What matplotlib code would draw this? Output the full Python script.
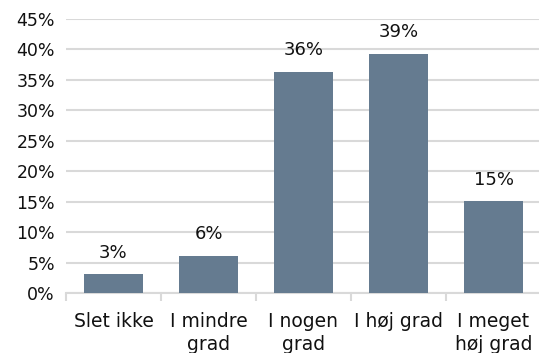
import matplotlib.pyplot as plt
from matplotlib.ticker import MultipleLocator, FuncFormatter

categories = ['Slet ikke', 'I mindre\ngrad', 'I nogen\ngrad', 'I høj grad', 'I meget\nhøj grad']
values = [3.1, 6.1, 36.3, 39.3, 15.1]
labels = ['3%', '6%', '36%', '39%', '15%']

plt.rcParams['font.family'] = ['DejaVu Sans']

fig = plt.figure(figsize=(5.39, 3.53), dpi=100)
W, H = 539, 353
ax = fig.add_axes([66 / W, 60 / H, 475 / W, 274 / H])

x = range(len(categories))
bars = ax.bar(x, values, width=0.63, color='#657b90', zorder=3)
for b, lab in zip(bars, labels):
    ax.annotate(lab, (b.get_x() + b.get_width() / 2, b.get_height()),
                xytext=(0, 9), textcoords='offset points',
                ha='center', va='bottom', fontsize=13, color='#111111')

ax.set_xlim(-0.5, len(categories) - 0.5)
ax.set_ylim(0, 45)
ax.yaxis.set_major_locator(MultipleLocator(5))
ax.yaxis.set_major_formatter(FuncFormatter(lambda v, p: f'{v:.0f}%'))
ax.grid(axis='y', color='#d9d9d9', linewidth=1.5, zorder=0)

for s in ['top', 'right', 'left']:
    ax.spines[s].set_visible(False)
ax.spines['bottom'].set_color('#d9d9d9')
ax.spines['bottom'].set_linewidth(1.5)

ax.set_xticks(list(x))
ax.set_xticklabels(categories, fontsize=13.5, linespacing=1.25, color='#111111')
ax.tick_params(axis='x', length=0, pad=14)
ax.set_xticks([i - 0.5 for i in range(len(categories) + 1)], minor=True)
ax.tick_params(axis='x', which='minor', length=6, color='#d9d9d9', width=1.5)
ax.tick_params(axis='y', length=0, labelsize=12.5, pad=8, labelcolor='#111111')

fig.savefig('out.png', dpi=100)
